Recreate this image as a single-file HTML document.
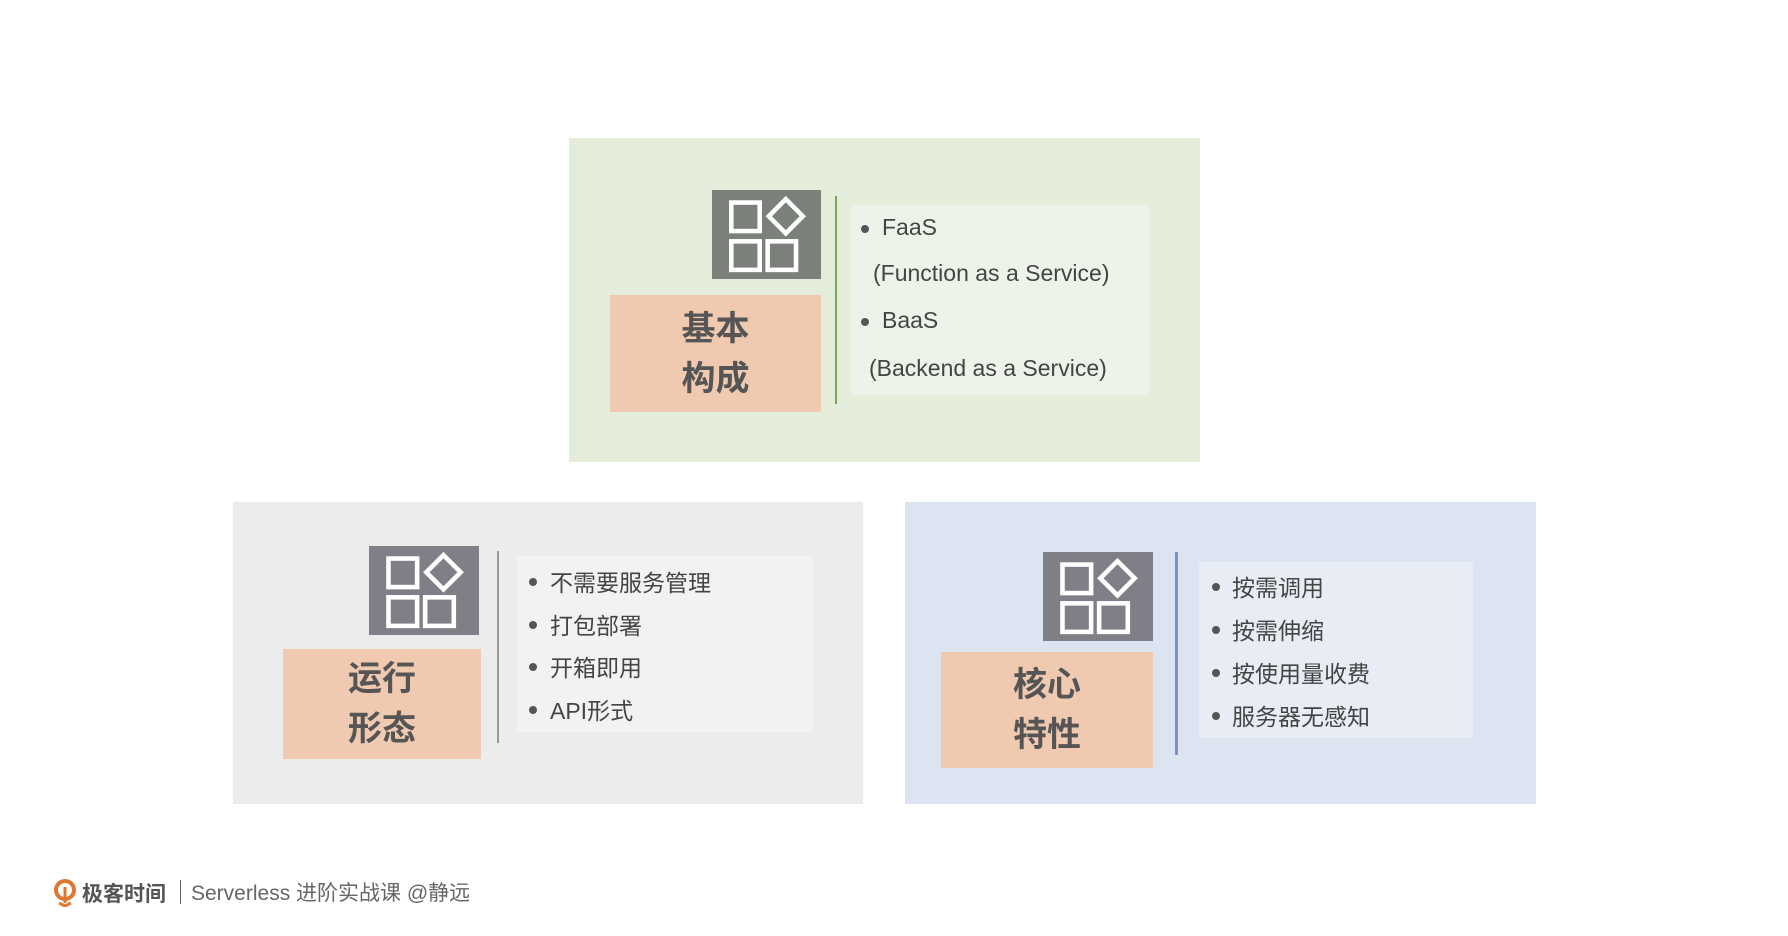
<!DOCTYPE html>
<html><head><meta charset="utf-8"><style>
body{margin:0;width:1788px;height:936px;background:#fff;position:relative;overflow:hidden;font-family:"Liberation Sans","Noto Sans CJK SC",sans-serif;color:#444}
.a{position:absolute}
.lbl{display:flex;flex-direction:column;align-items:center;justify-content:center;font-size:34px;font-weight:bold;color:#555;line-height:50px;background:#f0cab0}
.t{position:absolute;font-size:23px;color:#444;white-space:nowrap}
.b{position:absolute;width:8px;height:8px;border-radius:50%;background:#555}
</style></head><body>
<svg width="0" height="0" style="position:absolute"><defs><g id="ic" fill="none" stroke="#fff" stroke-width="4"><rect x="17" y="11" width="25" height="25"/><path d="M65 8 L80 23 L65 38 L50 23Z"/><rect x="17" y="45" width="25" height="25"/><rect x="49" y="45" width="25" height="25"/></g></defs></svg>

<!-- top green -->
<div class="a" style="left:569px;top:138px;width:631px;height:324px;background:#e4edda"></div>
<svg class="a" style="left:712px;top:190px" width="109" height="89" viewBox="0 0 96 78" preserveAspectRatio="none"><rect width="96" height="78" fill="#7b807b"/><use href="#ic"/></svg>
<div class="a lbl" style="left:610px;top:295px;width:211px;height:117px">基本<br>构成</div>
<div class="a" style="left:835px;top:196px;width:2px;height:208px;background:#7aa65a"></div>
<div class="a" style="left:851px;top:205px;width:298px;height:190px;background:#edf3e8"></div>
<div class="b" style="left:861px;top:225px"></div><div class="t" style="left:882px;top:214px">FaaS</div>
<div class="t" style="left:873px;top:260px">(Function as a Service)</div>
<div class="b" style="left:861px;top:318px"></div><div class="t" style="left:882px;top:307px">BaaS</div>
<div class="t" style="left:869px;top:355px">(Backend as a Service)</div>

<!-- gray -->
<div class="a" style="left:233px;top:502px;width:630px;height:302px;background:#ececec"></div>
<svg class="a" style="left:369px;top:546px" width="110" height="89" viewBox="0 0 96 78" preserveAspectRatio="none"><rect width="96" height="78" fill="#7f7f87"/><use href="#ic"/></svg>
<div class="a lbl" style="left:283px;top:649px;width:198px;height:110px">运行<br>形态</div>
<div class="a" style="left:497px;top:551px;width:2px;height:192px;background:#999"></div>
<div class="a" style="left:517px;top:556px;width:296px;height:176px;background:#f2f2f2"></div>
<div class="b" style="left:529px;top:578px"></div><div class="t" style="left:550px;top:564px">不需要服务管理</div>
<div class="b" style="left:529px;top:621px"></div><div class="t" style="left:550px;top:607px">打包部署</div>
<div class="b" style="left:529px;top:663px"></div><div class="t" style="left:550px;top:649px">开箱即用</div>
<div class="b" style="left:529px;top:706px"></div><div class="t" style="left:550px;top:692px">API形式</div>

<!-- blue -->
<div class="a" style="left:905px;top:502px;width:631px;height:302px;background:#dce3f1"></div>
<svg class="a" style="left:1043px;top:552px" width="110" height="89" viewBox="0 0 96 78" preserveAspectRatio="none"><rect width="96" height="78" fill="#7f7f87"/><use href="#ic"/></svg>
<div class="a lbl" style="left:941px;top:652px;width:212px;height:116px">核心<br>特性</div>
<div class="a" style="left:1175px;top:552px;width:3px;height:203px;background:#6f95d0"></div>
<div class="a" style="left:1199px;top:562px;width:274px;height:176px;background:#e8ecf5"></div>
<div class="b" style="left:1212px;top:583px"></div><div class="t" style="left:1232px;top:569px">按需调用</div>
<div class="b" style="left:1212px;top:626px"></div><div class="t" style="left:1232px;top:612px">按需伸缩</div>
<div class="b" style="left:1212px;top:669px"></div><div class="t" style="left:1232px;top:655px">按使用量收费</div>
<div class="b" style="left:1212px;top:712px"></div><div class="t" style="left:1232px;top:698px">服务器无感知</div>

<!-- footer -->
<svg class="a" style="left:54px;top:879px" width="22" height="28" viewBox="0 0 22 28"><circle cx="11" cy="11" r="9" fill="none" stroke="#e0762f" stroke-width="4"/><path d="M11 8 V24 M5 24 L11 27 L17 24" stroke="#e0762f" stroke-width="3" fill="none"/></svg>
<div class="t" style="left:82px;top:878px;font-size:21px;font-weight:bold;color:#555">极客时间</div>
<div class="a" style="left:180px;top:880px;width:1px;height:24px;background:#666"></div>
<div class="t" style="left:191px;top:877px;font-size:21px;color:#666">Serverless 进阶实战课 @静远</div>
</body></html>
